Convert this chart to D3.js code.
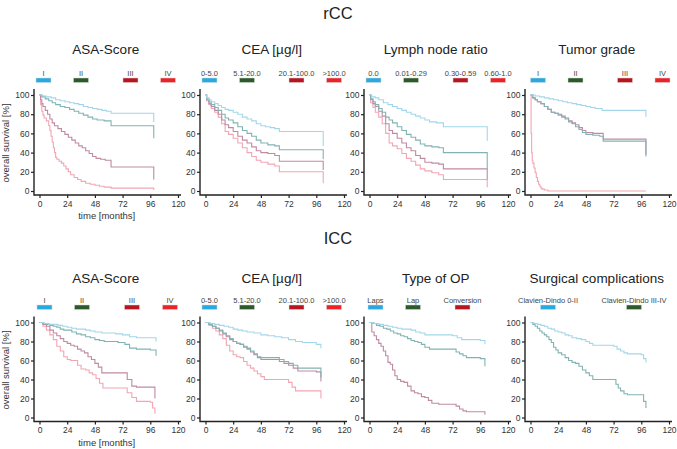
<!DOCTYPE html>
<html>
<head>
<meta charset="utf-8">
<script src="https://cdn.jsdelivr.net/npm/d3@7"></script>
<style>
body { margin:0; background:#fff; }
text { font-family: "Liberation Sans", Arial, sans-serif; }
</style>
</head>
<body>
<svg id="fig" width="677" height="449"></svg>
<script>
// ---- data: [month, overall survival %] ----
var rccAsaI = [[0,100],[3,99],[6,98],[10,97],[14,95],[18,94],[22,93],[26,92],[30,91],[34,90],[38,88],[42,87],[46,86],[50,85],[54,84],[58,83],[62,81],[99,72]];
var rccAsaII = [[0,100],[2,98],[5,96],[8,94],[11,92],[14,90],[18,88],[22,87],[26,85],[30,83],[34,81],[38,79],[42,77],[46,75],[50,74],[56,73],[62,68],[99,55]];
var rccAsaIII = [[0,100],[1,95],[2,91],[3,88],[5,84],[7,80],[9,75],[11,71],[13,68],[16,65],[19,62],[22,59],[25,56],[28,53],[31,50],[34,47],[37,45],[40,42],[43,39],[46,36],[49,34],[53,33],[57,32],[62,25],[99,12]];
var rccAsaIV = [[0,100],[1,90],[2,83],[3,79],[4,76],[6,73],[8,68],[9,63],[10,57],[11,51],[12,45],[13,40],[14,35],[15,33],[17,31],[19,29],[21,26],[23,23],[25,20],[27,17],[30,14],[33,12],[36,10],[40,8],[44,7],[48,6],[52,5],[56,4],[62,3],[99,1]];

var rccCeaI = [[0,100],[1,97],[3,95],[5,93],[8,91],[11,89],[14,87],[17,85],[20,84],[24,82],[28,80],[32,77],[36,75],[40,73],[44,70],[48,68],[52,67],[56,66],[60,65],[64,62],[102,47]];
var rccCeaII = [[0,100],[1,96],[3,93],[5,90],[8,87],[11,84],[14,80],[17,76],[20,74],[24,71],[28,67],[32,63],[36,60],[40,57],[44,53],[48,50],[54,48],[60,47],[64,43],[102,33]];
var rccCeaIII = [[0,100],[1,95],[3,91],[5,88],[8,84],[11,80],[14,74],[17,69],[20,66],[24,62],[28,57],[32,53],[36,50],[40,46],[44,42],[48,40],[54,39],[60,37],[64,31],[102,22]];
var rccCeaIV = [[0,100],[1,94],[3,90],[5,86],[8,82],[11,77],[14,70],[17,62],[20,59],[24,55],[28,50],[32,45],[36,40],[40,36],[44,32],[48,30],[54,28],[60,26],[64,20],[102,8]];

var rccLnrI = [[0,100],[2,98],[5,97],[8,95],[12,92],[16,90],[20,88],[24,86],[28,84],[32,82],[36,80],[40,78],[44,76],[48,74],[52,72],[58,71],[64,67],[102,52]];
var rccLnrII = [[0,100],[1,96],[3,93],[5,90],[8,86],[11,82],[14,77],[17,74],[20,71],[24,67],[28,63],[32,59],[36,56],[40,53],[44,49],[48,47],[54,46],[60,45],[64,40],[102,23]];
var rccLnrIII = [[0,100],[1,95],[3,91],[5,88],[8,83],[11,78],[14,70],[17,63],[20,60],[24,55],[28,50],[32,45],[36,42],[40,37],[44,34],[48,30],[54,29],[60,28],[64,23],[102,12]];
var rccLnrIV = [[0,100],[1,92],[3,87],[5,82],[8,77],[11,70],[14,60],[17,50],[20,47],[24,44],[28,39],[32,34],[36,31],[40,27],[44,23],[48,21],[54,19],[60,17],[64,12],[102,4]];

var rccGradeI = [[0,100],[4,99],[8,98],[12,97],[16,96],[20,95],[24,94],[28,93],[32,92],[36,91],[40,90],[44,89],[48,88],[52,87],[56,86],[62,84],[100,77]];
var rccGradeII = [[0,100],[2,97],[4,95],[6,93],[9,91],[12,88],[15,85],[18,82],[21,81],[24,79],[27,77],[30,75],[33,72],[36,70],[39,67],[42,64],[45,61],[48,59],[54,58],[60,57],[63,52],[100,36]];
var rccGradeIII = [[0,100],[2,97],[4,95],[6,93],[9,91],[12,88],[15,85],[18,82],[21,81],[24,80],[27,78],[30,76],[33,73],[36,71],[39,69],[42,66],[45,63],[48,61],[54,60],[60,60],[63,54],[100,38]];
var rccGradeIV = [[0,100],[0.5,60],[1,40],[1.5,32],[2,29],[3,24],[4,19],[5,14],[6,10],[7,7],[8,5],[9,3],[10,2],[12,1],[15,0],[100,0]];

var iccAsaI = [[0,100],[4,99],[8,98],[12,98],[16,97],[20,96],[24,95],[28,94],[32,93],[36,93],[40,92],[44,91],[48,90],[54,89],[60,89],[66,88],[72,87],[78,85],[84,84],[96,84],[101,80]];
var iccAsaII = [[0,100],[3,99],[6,98],[9,97],[12,96],[15,95],[18,93],[21,92],[24,92],[28,90],[32,88],[36,87],[40,85],[44,84],[48,82],[52,81],[56,80],[62,80],[68,79],[74,77],[78,73],[84,72],[96,71],[101,65]];
var iccAsaIII = [[0,100],[3,98],[6,96],[9,92],[12,89],[15,86],[18,83],[21,80],[24,78],[27,76],[30,75],[33,72],[36,70],[39,68],[42,64],[45,61],[48,57],[51,53],[54,47],[60,47],[72,47],[76,40],[80,33],[84,32],[96,32],[100,20]];
var iccAsaIV = [[0,100],[3,96],[6,92],[9,87],[12,82],[15,75],[18,70],[21,64],[24,61],[27,60],[30,60],[33,55],[36,51],[40,50],[43,47],[46,45],[49,41],[52,36],[55,31],[60,31],[72,31],[76,26],[80,21],[84,17],[96,16],[98,10],[100,4]];

var iccCeaI = [[0,100],[4,99],[8,98],[12,97],[16,96],[20,95],[24,93],[28,92],[32,91],[36,90],[42,89],[48,87],[54,86],[60,85],[66,84],[72,82],[78,80],[84,79],[90,79],[96,77],[100,73]];
var iccCeaII = [[0,100],[3,98],[6,96],[9,94],[12,92],[15,89],[18,86],[21,83],[24,80],[27,78],[30,77],[33,75],[36,73],[39,70],[42,67],[45,64],[48,63],[60,63],[64,61],[68,59],[72,57],[76,55],[80,52],[96,52],[100,42]];
var iccCeaIII = [[0,100],[3,98],[6,96],[9,94],[12,91],[15,88],[18,85],[21,82],[24,80],[27,78],[30,77],[33,74],[36,72],[39,69],[42,66],[45,63],[48,61],[60,61],[64,59],[68,57],[72,55],[76,52],[80,49],[96,48],[100,38]];
var iccCeaIV = [[0,100],[3,97],[6,94],[9,91],[12,87],[15,83],[18,76],[21,70],[24,66],[27,64],[30,63],[33,59],[36,55],[39,52],[42,49],[45,46],[48,43],[51,40],[60,40],[66,40],[72,37],[75,32],[78,28],[96,28],[100,20]];

var iccOpLaps = [[0,100],[4,99],[8,98],[12,97],[16,96],[20,95],[24,94],[28,93],[32,93],[36,92],[40,90],[44,89],[48,87],[54,87],[60,87],[66,87],[72,86],[76,84],[80,82],[88,82],[96,81],[100,77]];
var iccOpLap = [[0,100],[3,99],[6,97],[9,96],[12,94],[15,93],[18,91],[21,89],[24,88],[27,86],[30,85],[33,83],[36,81],[39,80],[42,79],[45,77],[48,74],[52,72],[60,72],[72,72],[75,69],[78,67],[81,65],[84,63],[96,62],[100,54]];
var iccOpConv = [[0,100],[2,90],[4,86],[6,82],[8,78],[10,75],[12,70],[14,65],[16,58],[18,56],[20,50],[22,44],[24,40],[27,38],[30,37],[33,33],[36,28],[39,26],[42,25],[45,22],[48,21],[51,18],[54,15],[60,14],[72,14],[75,12],[78,9],[81,7],[84,6],[96,6],[100,3]];

var iccCompLow = [[0,100],[3,99],[6,98],[9,97],[12,96],[15,94],[18,93],[21,91],[24,90],[27,89],[30,87],[33,86],[36,84],[40,83],[44,82],[48,80],[51,78],[54,76],[60,76],[72,75],[75,72],[78,70],[81,68],[84,67],[96,66],[98,62],[100,58]];
var iccCompHigh = [[0,100],[2,98],[4,96],[6,94],[8,91],[10,89],[12,87],[14,85],[16,82],[18,79],[20,74],[22,71],[24,68],[27,66],[30,63],[33,60],[36,58],[39,57],[42,54],[45,50],[48,47],[51,44],[54,40],[60,40],[72,40],[74,35],[76,31],[78,28],[81,25],[84,24],[96,24],[98,17],[100,10]];

// ---- labels ----
var rowTitles = ["rCC", "ICC"];
var xTicks = [0, 24, 48, 72, 96, 120];
var yTicks = [0, 20, 40, 60, 80, 100];
var asaLabels = ["I", "II", "III", "IV"];
var ceaLabels = ["0-5.0", "5.1-20.0", "20.1-100.0", ">100.0"];
var lnrLabels = ["0.0", "0.01-0.29", "0.30-0.59", "0.60-1.0"];
var gradeLabels = ["I", "II", "III", "IV"];
var opLabels = ["Laps", "Lap", "Conversion"];
var compLabels = ["Clavien-Dindo 0-II", "Clavien-Dindo III-IV"];

var legendColors = ["#27a9e1", "#2c5b2a", "#b9151f", "#ed2227"];
var curveColors = ["#a3d6e9", "#82b3b3", "#c08aa3", "#f2a6b4"];

// ---- layout ----
var panelX = [39.5, 205.5, 369.5, 530.5];
var panelW = 138.5;
var rows = [
  { title: rowTitles[0], titleY: 19, panelTitleY: 54, legTextY: 76, legBarY: 78, y100: 95, y0: 191, xLabelY: 219 },
  { title: rowTitles[1], titleY: 244, panelTitleY: 283, legTextY: 303, legBarY: 305, y100: 322.5, y0: 417.5, xLabelY: 446 }
];
var leg4 = [4, 41.5, 91, 128.5];

var panels = [
  { row: 0, col: 0, title: "ASA-Score", labels: asaLabels, leg: leg4, curves: [rccAsaI, rccAsaII, rccAsaIII, rccAsaIV] },
  { row: 0, col: 1, title: "CEA [\u00b5g/l]", labels: ceaLabels, leg: leg4, curves: [rccCeaI, rccCeaII, rccCeaIII, rccCeaIV] },
  { row: 0, col: 2, title: "Lymph node ratio", labels: lnrLabels, leg: leg4, curves: [rccLnrI, rccLnrII, rccLnrIII, rccLnrIV] },
  { row: 0, col: 3, title: "Tumor grade", labels: gradeLabels, leg: [7.5, 45, 94.5, 132], curves: [rccGradeI, rccGradeII, rccGradeIII, rccGradeIV] },
  { row: 1, col: 0, title: "ASA-Score", labels: asaLabels, leg: [5, 42.5, 92.5, 130.5], curves: [iccAsaI, iccAsaII, iccAsaIII, iccAsaIV] },
  { row: 1, col: 1, title: "CEA [\u00b5g/l]", labels: ceaLabels, leg: leg4, curves: [iccCeaI, iccCeaII, iccCeaIII, iccCeaIV] },
  { row: 1, col: 2, title: "Type of OP", labels: opLabels, leg: [6, 43.5, 93], curves: [iccOpLaps, iccOpLap, iccOpConv] },
  { row: 1, col: 3, title: "Surgical complications", labels: compLabels, leg: [17.5, 103.5], curves: [iccCompLow, iccCompHigh] }
];

var svg = d3.select("#fig");

rows.forEach(function(r){
  svg.append("text").attr("x", 338).attr("y", r.titleY)
    .attr("text-anchor", "middle").attr("font-size", 16.5).attr("fill", "#222")
    .text(r.title);
});

function drawPanel(p){
  var r = rows[p.row];
  var x0 = panelX[p.col];
  var x = d3.scaleLinear().domain([0, 120]).range([x0, x0 + panelW]);
  var y = d3.scaleLinear().domain([0, 100]).range([r.y0, r.y100]);
  var g = svg.append("g");

  g.append("text").attr("x", x(60) - 3).attr("y", r.panelTitleY)
    .attr("text-anchor", "middle").attr("font-size", 13.5).attr("fill", "#222")
    .text(p.title);

  // legend
  p.labels.forEach(function(lab, i){
    var cx = x0 + p.leg[i];
    g.append("text").attr("x", cx).attr("y", r.legTextY)
      .attr("text-anchor", "middle").attr("font-size", 7.5).attr("fill", "#444")
      .text(lab);
    g.append("rect").attr("x", cx - 7.5).attr("y", r.legBarY).attr("width", 15).attr("height", 4.5)
      .attr("fill", legendColors[i]).attr("stroke", "#d8d8d8").attr("stroke-width", 0.5);
  });

  // L-shaped frame
  var left = x(0) - 5.5, right = x(120) + 3, top = y(100) - 6, bottom = y(0) + 4;
  g.append("path")
    .attr("d", "M" + left + "," + top + "V" + bottom + "H" + right)
    .attr("fill", "none").attr("stroke", "#222").attr("stroke-width", 1.4);

  var ya = g.append("g").attr("transform", "translate(" + left + ",0)")
    .call(d3.axisLeft(y).tickValues(yTicks).tickSize(3).tickPadding(1.5));
  ya.select(".domain").remove();
  var xa = g.append("g").attr("transform", "translate(0," + bottom + ")")
    .call(d3.axisBottom(x).tickValues(xTicks).tickSize(3).tickPadding(2.5));
  xa.select(".domain").remove();
  [ya, xa].forEach(function(a){
    a.selectAll("line").attr("stroke", "#222").attr("stroke-width", 1.2);
    a.selectAll("text").attr("font-size", 8.5).attr("fill", "#333")
      .style("font-family", '"Liberation Sans", Arial, sans-serif');
  });

  var line = d3.line().x(function(d){ return x(d[0]); }).y(function(d){ return y(d[1]); })
    .curve(d3.curveStepAfter);

  // draw lower groups first so the light ones stay on top
  p.curves.slice().reverse().forEach(function(c, j){
    var i = p.curves.length - 1 - j;
    g.append("path").datum(c)
      .attr("fill", "none")
      .attr("stroke", curveColors[i])
      .attr("stroke-width", 1.1)
      .attr("d", line);
  });

  if (p.col == 0) {
    g.append("text")
      .attr("transform", "translate(9," + ((r.y0 + r.y100) / 2) + ") rotate(-90)")
      .attr("text-anchor", "middle").attr("font-size", 9.5).attr("fill", "#333")
      .text("overall survival [%]");
    g.append("text").attr("x", x(60) - 2).attr("y", r.xLabelY)
      .attr("text-anchor", "middle").attr("font-size", 9.5).attr("fill", "#333")
      .text("time [months]");
  }
}

panels.forEach(drawPanel);
</script>
</body>
</html>
